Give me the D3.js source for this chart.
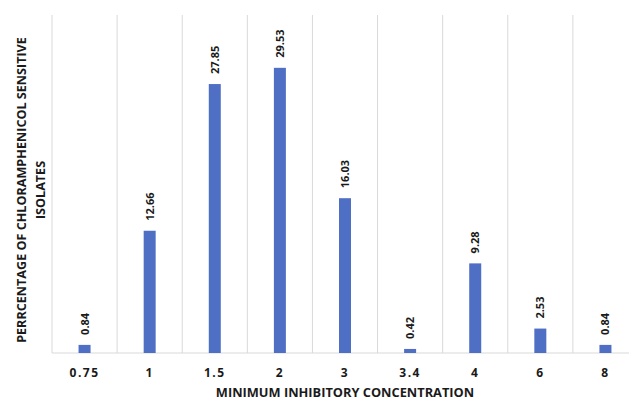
<!DOCTYPE html>
<html lang="en">
<head>
    <meta charset="UTF-8">
    <title>MIC chart</title>
    <script src="https://d3js.org/d3.v7.min.js"></script>
    <style>
        body { margin: 0; background: white; overflow: hidden; }
        text { font-family: "Open Sans", "Noto Sans", sans-serif; font-weight: bold; fill: #1a1a1a; }
    </style>
</head>
<body>
<script>

    var categories = ["0.75", "1", "1.5", "2", "3", "3.4", "4", "6", "8"]
    var values = [0.84, 12.66, 27.85, 29.53, 16.03, 0.42, 9.28, 2.53, 0.84]
    var y_max = 35

    var width = 629
    var height = 400
    var m = {left: 52, right: -9, top: 15, bottom: 47}

    var svg = d3.select("body").append("svg")
        .attr("width", width)
        .attr("height", height)

    var x = d3.scaleBand()
        .domain(categories)
        .range([m.left, width - m.right])
        .paddingInner(0)
        .paddingOuter(0)

    var y = d3.scaleLinear()
        .domain([0, y_max])
        .range([height - m.bottom, m.top])

    var bar_w = 12

    // vertical gridlines at band edges
    var edges = categories.map(function (c) { return x(c) })
    edges.push(x(categories[categories.length - 1]) + x.bandwidth())
    svg.selectAll(".grid")
        .data(edges)
        .enter().append("line")
        .attr("x1", function (d) { return d })
        .attr("x2", function (d) { return d })
        .attr("y1", y(y_max))
        .attr("y2", y(0))
        .attr("stroke", "#d9d9d9")
        .attr("stroke-width", 1)

    // baseline
    svg.append("line")
        .attr("x1", m.left)
        .attr("x2", width - m.right)
        .attr("y1", y(0))
        .attr("y2", y(0))
        .attr("stroke", "#d9d9d9")
        .attr("stroke-width", 1)

    // bars
    svg.selectAll(".bar")
        .data(values)
        .enter().append("rect")
        .attr("x", function (d, i) { return x(categories[i]) + x.bandwidth() / 2 - bar_w / 2 })
        .attr("y", function (d) { return y(d) })
        .attr("width", bar_w)
        .attr("height", function (d) { return y(0) - y(d) })
        .attr("fill", "#4e6fc4")

    // data labels, rotated
    svg.selectAll(".lbl")
        .data(values)
        .enter().append("text")
        .attr("transform", function (d, i) {
            var cx = x(categories[i]) + x.bandwidth() / 2
            return "translate(" + (cx + 4) + "," + (y(d) - 10) + ") rotate(-90)"
        })
        .attr("text-anchor", "start")
        .attr("font-size", "11px")
        .text(function (d) { return d.toFixed(2) })

    // category labels
    var xAxis = d3.axisBottom(x).tickSize(0).tickPadding(0)
    var gx = svg.append("g")
        .attr("transform", "translate(0," + y(0) + ")")
        .call(xAxis)
    gx.select(".domain").remove()
    gx.selectAll("text")
        .attr("y", 15)
        .attr("font-size", "12px")
        .attr("font-family", "\"Open Sans\", sans-serif")
        .attr("font-weight", "bold")
        .attr("fill", "#1a1a1a")
        .style("letter-spacing", "1.5px")

    svg.append("text")
        .attr("x", 345)
        .attr("y", 397)
        .attr("text-anchor", "middle")
        .attr("font-size", "12.8px")
        .text("MINIMUM INHIBITORY CONCENTRATION")

    var yt = svg.append("text")
        .attr("transform", "translate(26,190) rotate(-90)")
        .attr("text-anchor", "middle")
        .attr("font-size", "12.6px")
    yt.append("tspan").attr("x", 0).attr("dy", 0).text("PERRCENTAGE OF CHLORAMPHENICOL SENSITIVE")
    yt.append("tspan").attr("x", 0).attr("dy", 19).text("ISOLATES")

</script>
</body>
</html>
